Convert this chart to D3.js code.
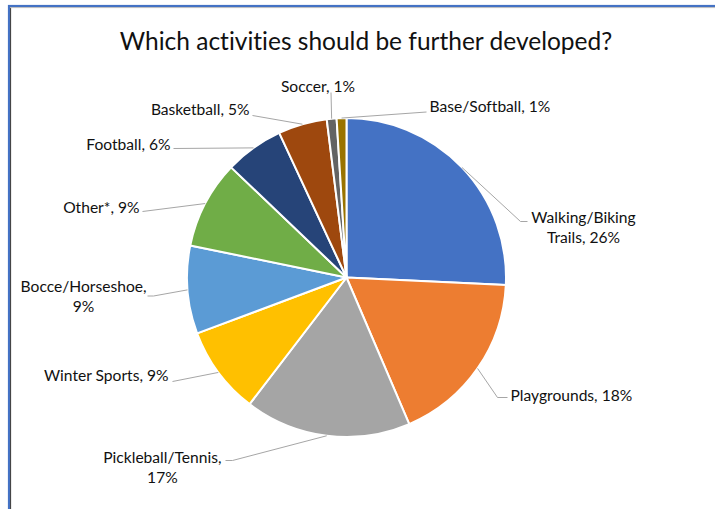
<!DOCTYPE html>
<html>
<head>
<meta charset="utf-8">
<script src="https://cdn.jsdelivr.net/npm/d3@7"></script>
<style>
  html, body { margin: 0; padding: 0; background: #fff; }
  svg { display: block; }
  text { font-family: Lato, "Open Sans", "Noto Sans", sans-serif; fill: #111; font-variant-ligatures: none; }
</style>
</head>
<body>
<svg id="chart" width="715" height="509"></svg>
<script>
// Survey answers: share of respondents per activity (percent)
const categories = [
  "Walking/Biking Trails", "Playgrounds", "Pickleball/Tennis", "Winter Sports",
  "Bocce/Horseshoe", "Other*", "Football", "Basketball", "Soccer", "Base/Softball"
];
const values = [26, 18, 17, 9, 9, 9, 6, 5, 1, 1];
const colors = [
  "#4472C4", "#ED7D31", "#A5A5A5", "#FFC000", "#5B9BD5",
  "#70AD47", "#264478", "#9E480E", "#636363", "#997300"
];
// Label text split into lines
const labelLines = [
  ["Walking/Biking", "Trails, 26%"],
  ["Playgrounds, 18%"],
  ["Pickleball/Tennis,", "17%"],
  ["Winter Sports, 9%"],
  ["Bocce/Horseshoe,", "9%"],
  ["Other*, 9%"],
  ["Football, 6%"],
  ["Basketball, 5%"],
  ["Soccer, 1%"],
  ["Base/Softball, 1%"]
];

const svg = d3.select("#chart");
const cx = 346.5, cy = 277.5, R = 159.5;

// Frame
svg.append("rect").attr("x", 9).attr("y", 6).attr("width", 720).attr("height", 520)
  .attr("fill", "none").attr("stroke", "#4472C4").attr("stroke-width", 2.2);
svg.append("line").attr("x1", 10.6).attr("x2", 10.6).attr("y1", 7).attr("y2", 509)
  .attr("stroke", "#333").attr("stroke-width", 1);
svg.append("line").attr("x1", 10).attr("x2", 715).attr("y1", 7.6).attr("y2", 7.6)
  .attr("stroke", "#bbb").attr("stroke-width", 1);

// Title
svg.append("text").attr("x", 366).attr("y", 50).attr("text-anchor", "middle")
  .style("font-size", "24.5px").text("Which activities should be further developed?");

const pie = d3.pie().sort(null).value(d => d)(values);
const arc = d3.arc().innerRadius(0).outerRadius(R);

const g = svg.append("g").attr("transform", `translate(${cx},${cy})`);
g.selectAll("path").data(pie).join("path")
  .attr("d", arc)
  .attr("fill", (d, i) => colors[i])
  .attr("stroke", "#fff").attr("stroke-width", 2).attr("stroke-linejoin", "round");

// Label placement: elbow point of leader (relative to pie center),
// horizontal tail length, text anchor, and text block offset from tail end
const labelLayout = [
  { ex: 174, ey: -56, tail: 7,  anchor: "middle", tx: 56,  ty: -4 },
  { ex: 151, ey: 120, tail: 10, anchor: "start",  tx: 3,   ty: -2 },
  { ex: -114, ey: 183, tail: -7, anchor: "end",   tx: -4,  ty: -3 },
  { ex: -174, ey: 104, tail: 0,  anchor: "end",   tx: -4,  ty: -6 },
  { ex: -193, ey: 18.5, tail: -6, anchor: "end",  tx: -1,  ty: -9 },
  { ex: -204, ey: -66, tail: 0,  anchor: "end",   tx: -3,  ty: -4 },
  { ex: -173, ey: -129, tail: 0, anchor: "end",   tx: -3,  ty: -4 },
  { ex: -94,  ey: -162, tail: 0, anchor: "end",   tx: -3,  ty: -6 },
  { ex: -15.5, ey: -185, tail: 0, anchor: "middle", tx: -13, ty: -6 },
  { ex: 80,   ey: -165.5, tail: 0, anchor: "start", tx: 3,   ty: -5 }
];

const labels = g.append("g");
pie.forEach((d, i) => {
  const a = (d.startAngle + d.endAngle) / 2;
  const px = R * Math.sin(a), py = -R * Math.cos(a);
  const L = labelLayout[i];
  const endX = L.ex + L.tail;
  labels.append("polyline")
    .attr("points", [[px, py], [L.ex, L.ey], [endX, L.ey]].map(p => p.join(",")).join(" "))
    .attr("fill", "none").attr("stroke", "#a6a6a6").attr("stroke-width", 1);
  const lines = labelLines[i];
  const lh = 20;
  const t = labels.append("text").style("font-size", "15.6px");
  const x0 = endX + L.tx;
  const first = t.append("tspan")
    .attr("x", x0).attr("y", L.ey + L.ty + 5)
    .attr("text-anchor", L.anchor).text(lines[0]);
  // further lines are centred beneath the first one
  const w = first.node().getComputedTextLength();
  const mid = L.anchor === "middle" ? x0 : L.anchor === "end" ? x0 - w / 2 : x0 + w / 2;
  lines.slice(1).forEach((s, k) => {
    t.append("tspan")
      .attr("x", mid).attr("y", L.ey + L.ty + 5 + (k + 1) * lh)
      .attr("text-anchor", "middle").text(s);
  });
});
</script>
</body>
</html>
